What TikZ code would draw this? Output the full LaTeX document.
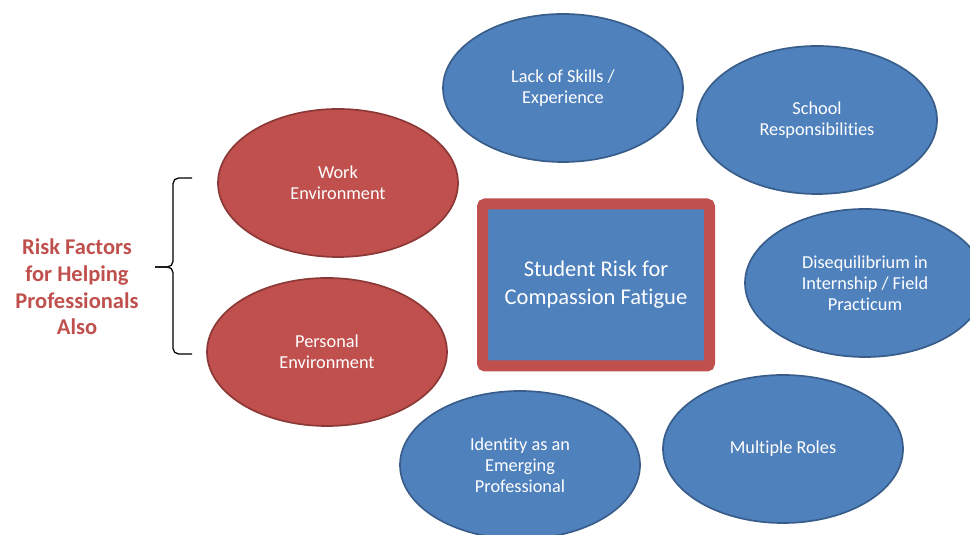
\documentclass[tikz,border=0pt]{standalone}
\usepackage{fontspec}
\setmainfont{Carlito}[Ligatures=NoCommon]
\usepackage{tikz}
\usetikzlibrary{shapes.geometric}
\usetikzlibrary{shadows}

\definecolor{factorblue}{HTML}{4F81BD}
\definecolor{factoredge}{HTML}{385D8A}
\definecolor{riskred}{HTML}{C0504D}
\definecolor{riskedge}{HTML}{8C3836}

\begin{document}
\begin{tikzpicture}
			\tikzset{factor/.style = {shape=ellipse,draw=factoredge,fill=factorblue,line width=1.2pt,minimum width=6cm,minimum height=3.7cm,text=white,align=center,font=\fontsize{13}{15}\selectfont}}
			\tikzset{helper/.style = {factor,draw=riskedge,fill=riskred}}
			\tikzset{core/.style = {shape=rectangle,rounded corners=2pt,draw=riskred,line width=0.275cm,fill=factorblue,minimum width=5.675cm,minimum height=4.05cm,text=white,align=center,font=\fontsize{16}{20}\selectfont,drop shadow={opacity=0.25,shadow xshift=0.06cm,shadow yshift=-0.06cm}}}
			\useasboundingbox (0, 0) rectangle (24.25, 13.375);
			% centre
			\node[core] (risk) at (14.9, 6.25) {Student Risk for\\Compassion Fatigue};
			% student factors
			\node[factor] (skills) at (14.075, 11.175) {Lack of Skills /\\Experience};
			\node[factor] (school) at (20.425, 10.375) {School\\Responsibilities};
			\node[factor] (diseq) at (21.625, 6.3) {Disequilibrium in\\Internship / Field\\Practicum};
			\node[factor] (roles) at (19.575, 2.15) {Multiple Roles};
			\node[factor] (identity) at (13.0, 1.75) {Identity as an\\Emerging\\Professional};
			% helping professionals
			\node[helper] (work) at (8.45, 8.8) {Work\\Environment};
			\node[helper] (personal) at (8.175, 4.575) {Personal\\Environment};
			% label and brace
			\node[text=riskred, align=center, font=\bfseries\fontsize{16}{19}\selectfont] (also) at (1.925, 6.2) {Risk Factors\\for Helping\\Professionals\\Also};
			\draw[line width=0.9pt, rounded corners=4pt] (4.8, 8.925) -- (4.325, 8.925) -- (4.325, 6.7) -- (3.875, 6.7);
			\draw[line width=0.9pt, rounded corners=4pt] (4.8, 4.525) -- (4.325, 4.525) -- (4.325, 6.7) -- (3.875, 6.7);
		\end{tikzpicture}
\end{document}
